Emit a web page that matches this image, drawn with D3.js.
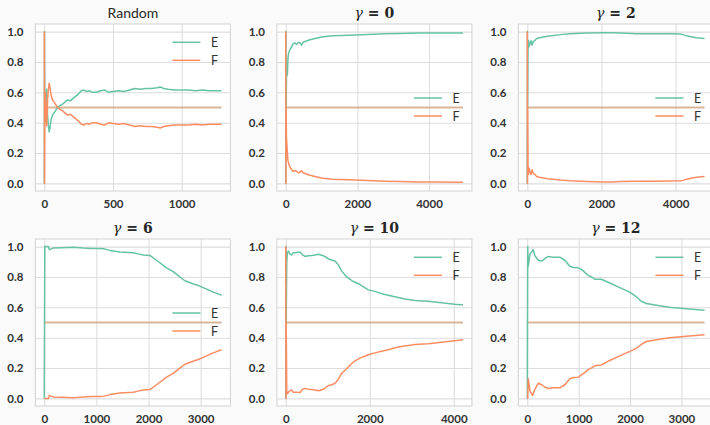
<!DOCTYPE html>
<html>
<head>
<meta charset="utf-8">
<script src="https://cdn.jsdelivr.net/npm/d3@7"></script>
<style>
  body { margin: 0; background: #fafafa; }
  svg { display: block; font-family: Lato, "Open Sans", sans-serif; }
</style>
</head>
<body>
<div id="chart-area"></div>
<script>
// step -> share of E / F

const randomE = [[0,0.0],[2,1.0],[4,0.5],[8,0.4],[14,0.58],[18,0.62],[24,0.45],[30,0.38],[36,0.34],[42,0.37],[50,0.42],[60,0.45],[75,0.47],[90,0.49],[110,0.51],[130,0.52],[150,0.535],[170,0.55],[190,0.545],[210,0.56],[230,0.575],[250,0.59],[270,0.61],[290,0.615],[310,0.605],[330,0.61],[350,0.6],[380,0.6],[410,0.61],[440,0.615],[470,0.6],[500,0.605],[540,0.61],[580,0.605],[620,0.615],[660,0.625],[700,0.62],[740,0.625],[780,0.625],[820,0.63],[845,0.635],[870,0.625],[900,0.62],[950,0.615],[1000,0.615],[1050,0.615],[1100,0.61],[1150,0.615],[1200,0.61],[1250,0.61],[1290,0.61]]
const randomF = [[0,1.0],[2,0.0],[4,0.5],[8,0.6],[14,0.42],[18,0.38],[24,0.55],[30,0.62],[36,0.66],[42,0.63],[50,0.58],[60,0.55],[75,0.53],[90,0.51],[110,0.49],[130,0.48],[150,0.465],[170,0.45],[190,0.455],[210,0.44],[230,0.425],[250,0.41],[270,0.39],[290,0.385],[310,0.395],[330,0.39],[350,0.4],[380,0.4],[410,0.39],[440,0.385],[470,0.4],[500,0.395],[540,0.39],[580,0.395],[620,0.385],[660,0.375],[700,0.38],[740,0.375],[780,0.375],[820,0.37],[845,0.365],[870,0.375],[900,0.38],[950,0.385],[1000,0.385],[1050,0.385],[1100,0.39],[1150,0.385],[1200,0.39],[1250,0.39],[1290,0.39]]

const gamma0E = [[0,0.0],[5,1.0],[10,0.5],[20,0.7],[46,0.72],[60,0.82],[74,0.85],[110,0.88],[167,0.9],[200,0.92],[260,0.925],[300,0.915],[353,0.93],[400,0.925],[445,0.91],[480,0.93],[538,0.935],[650,0.945],[817,0.955],[1000,0.965],[1300,0.972],[1559,0.975],[2116,0.98],[2765,0.985],[3200,0.987],[3693,0.99],[4300,0.99],[4950,0.991]]
const gamma0F = [[0,1.0],[5,0.0],[10,0.5],[20,0.3],[46,0.2],[60,0.15],[74,0.14],[110,0.11],[167,0.09],[200,0.08],[260,0.085],[300,0.08],[353,0.07],[400,0.075],[445,0.084],[480,0.07],[538,0.065],[650,0.055],[817,0.045],[1000,0.035],[1300,0.028],[1559,0.025],[2116,0.02],[2765,0.015],[3200,0.013],[3693,0.01],[4300,0.009],[4950,0.008]]

const gamma2E = [[0,0.0],[5,1.0],[10,0.5],[20,0.88],[35,0.94],[50,0.9],[72,0.92],[100,0.94],[130,0.91],[162,0.935],[200,0.94],[252,0.955],[330,0.96],[431,0.965],[550,0.97],[701,0.975],[900,0.98],[1151,0.985],[1600,0.99],[2050,0.993],[2300,0.993],[2500,0.99],[2950,0.985],[3398,0.985],[3848,0.985],[4117,0.984],[4200,0.98],[4297,0.972],[4450,0.965],[4567,0.96],[4780,0.955]]
const gamma2F = [[0,1.0],[5,0.0],[10,0.5],[20,0.12],[35,0.06],[50,0.1],[72,0.08],[100,0.06],[130,0.09],[162,0.065],[200,0.06],[252,0.045],[330,0.04],[431,0.035],[550,0.03],[701,0.028],[900,0.022],[1151,0.017],[1600,0.012],[2050,0.009],[2300,0.009],[2500,0.012],[2950,0.015],[3398,0.015],[3848,0.016],[4117,0.017],[4200,0.02],[4297,0.028],[4450,0.035],[4567,0.04],[4780,0.046]]

const gamma6E = [[0,0.0],[10,1.0],[80,1.0],[96,0.98],[130,0.985],[172,0.99],[350,0.993],[556,0.995],[748,0.99],[900,0.988],[1067,0.987],[1150,0.985],[1259,0.975],[1450,0.965],[1706,0.96],[1800,0.952],[1898,0.945],[2026,0.942],[2153,0.91],[2345,0.86],[2473,0.835],[2600,0.8],[2697,0.775],[2850,0.755],[2984,0.74],[3240,0.7],[3400,0.68]]
const gamma6F = [[0,0.0],[80,0.0],[96,0.02],[130,0.015],[172,0.01],[350,0.007],[556,0.005],[748,0.01],[900,0.012],[1067,0.013],[1150,0.015],[1259,0.025],[1450,0.035],[1706,0.04],[1800,0.048],[1898,0.055],[2026,0.058],[2153,0.09],[2345,0.14],[2473,0.165],[2600,0.2],[2697,0.225],[2850,0.245],[2984,0.26],[3240,0.3],[3400,0.32]]

const gamma10E = [[0,0.0],[5,1.0],[10,0.5],[24,0.9],[40,0.96],[63,0.97],[100,0.95],[143,0.945],[180,0.96],[222,0.96],[300,0.962],[340,0.965],[400,0.945],[459,0.935],[540,0.94],[618,0.942],[700,0.945],[776,0.95],[895,0.94],[1014,0.92],[1100,0.91],[1172,0.905],[1251,0.88],[1330,0.84],[1449,0.8],[1608,0.77],[1766,0.75],[1964,0.715],[2122,0.705],[2281,0.69],[2439,0.68],[2677,0.665],[2835,0.655],[3073,0.645],[3390,0.64],[3707,0.63],[4023,0.62],[4220,0.615]]
const gamma10F = [[0,1.0],[5,0.0],[10,0.5],[24,0.05],[40,0.03],[63,0.04],[100,0.05],[143,0.055],[180,0.04],[222,0.04],[300,0.04],[340,0.038],[400,0.06],[459,0.066],[540,0.06],[618,0.058],[700,0.055],[776,0.05],[895,0.06],[1014,0.085],[1100,0.09],[1172,0.1],[1251,0.125],[1330,0.165],[1449,0.195],[1608,0.24],[1766,0.265],[1964,0.288],[2122,0.3],[2281,0.31],[2439,0.32],[2677,0.338],[2835,0.345],[3073,0.355],[3390,0.36],[3707,0.37],[4023,0.38],[4220,0.387]]

const gamma12E = [[0,0.0],[8,1.0],[19,0.87],[52,0.95],[116,0.98],[149,0.94],[214,0.91],[278,0.905],[343,0.92],[408,0.935],[505,0.93],[634,0.93],[731,0.91],[828,0.87],[900,0.862],[990,0.86],[1055,0.85],[1120,0.83],[1184,0.81],[1249,0.8],[1313,0.785],[1443,0.785],[1605,0.76],[1799,0.73],[1993,0.7],[2122,0.67],[2219,0.64],[2316,0.625],[2575,0.61],[2769,0.6],[3093,0.59],[3450,0.58]]
const gamma12F = [[0,0.0],[8,0.0],[19,0.13],[52,0.05],[104,0.02],[149,0.06],[214,0.1],[278,0.09],[343,0.075],[408,0.065],[505,0.07],[634,0.07],[731,0.09],[828,0.13],[900,0.138],[990,0.14],[1055,0.155],[1120,0.17],[1184,0.19],[1249,0.2],[1313,0.215],[1443,0.22],[1605,0.25],[1799,0.28],[1993,0.31],[2122,0.33],[2219,0.355],[2316,0.375],[2575,0.39],[2769,0.4],[3093,0.41],[3450,0.42]]

const titles = ["Random", "0", "2", "6", "10", "12"]   // first is plain text, rest are gamma values
const xTickValues = [[0, 500, 1000], [0, 2000, 4000], [0, 2000, 4000], [0, 1000, 2000, 3000], [0, 2000, 4000], [0, 1000, 2000, 3000]]
const yTickValues = [0, 0.2, 0.4, 0.6, 0.8, 1.0]
const baselineValue = 0.5
const legendLabels = ["E", "F"]

const eSeries = [randomE, gamma0E, gamma2E, gamma6E, gamma10E, gamma12E]
const fSeries = [randomF, gamma0F, gamma2F, gamma6F, gamma10F, gamma12F]

// layout
const LEFT0 = 35.4, TOP0 = 24, COL_STEP = 241.5, ROW_STEP = 215
const WIDTH = 195, HEIGHT = 167
const COLORS = {E: "#66c2a5", F: "#fc8d62", base: "#d9b597"}
const legendSpot = ["upper", "center", "center", "center", "upper", "upper"]

const svg = d3.select("#chart-area").append("svg")
  .attr("width", 710)
  .attr("height", 425)

svg.append("rect").attr("width", 710).attr("height", 425).attr("fill", "#fafafa")

eSeries.forEach((eData, i) => {
  const fData = fSeries[i]
  const col = i % 3, row = Math.floor(i / 3)
  const g = svg.append("g")
    .attr("transform", `translate(${LEFT0 + col * COL_STEP}, ${TOP0 + row * ROW_STEP})`)

  const n = d3.max(eData.concat(fData), d => d[0])

  const x = d3.scaleLinear()
    .domain([-0.05 * n, 1.05 * n])
    .range([0, WIDTH])

  const y = d3.scaleLinear()
    .domain([-0.05, 1.05])
    .range([HEIGHT, 0])

  g.append("rect")
    .attr("width", WIDTH)
    .attr("height", HEIGHT)
    .attr("fill", "#ffffff")

  // grid + tick labels
  const yAxisCall = d3.axisLeft(y)
    .tickValues(yTickValues)
    .tickFormat(d3.format(".1f"))
    .tickSize(-WIDTH)
    .tickPadding(12)
  const xAxisCall = d3.axisBottom(x)
    .tickValues(xTickValues[i])
    .tickFormat(d3.format("d"))
    .tickSize(-HEIGHT)
    .tickPadding(9)

  const yAxisGroup = g.append("g").call(yAxisCall)
  const xAxisGroup = g.append("g")
    .attr("transform", `translate(0, ${HEIGHT})`)
    .call(xAxisCall)

  ;[xAxisGroup, yAxisGroup].forEach(ax => {
    ax.select(".domain").remove()
    ax.selectAll(".tick line").attr("stroke", "#dddddd").attr("stroke-width", 1.1)
    ax.selectAll(".tick text")
      .attr("fill", "#333333")
      .attr("font-family", "Lato, sans-serif")
      .attr("font-weight", "bold")
      .attr("font-size", "11.5px")
  })

  // frame
  g.append("rect")
    .attr("width", WIDTH)
    .attr("height", HEIGHT)
    .attr("fill", "none")
    .attr("stroke", "#d6d6d6")
    .attr("stroke-width", 1.1)

  const line = d3.line()
    .x(d => x(d[0]))
    .y(d => y(d[1]))

  g.append("path")
    .datum([[0, baselineValue], [n, baselineValue]])
    .attr("d", line)
    .attr("fill", "none")
    .attr("stroke", COLORS.base)
    .attr("stroke-width", 2.2)

  g.append("path")
    .datum(eData)
    .attr("d", line)
    .attr("fill", "none")
    .attr("stroke", COLORS.E)
    .attr("stroke-width", 1.5)
    .attr("stroke-linejoin", "round")

  g.append("path")
    .datum(fData)
    .attr("d", line)
    .attr("fill", "none")
    .attr("stroke", COLORS.F)
    .attr("stroke-width", 1.5)
    .attr("stroke-linejoin", "round")

  // title
  const title = g.append("text")
    .attr("x", WIDTH / 2)
    .attr("y", -6)
    .attr("text-anchor", "middle")
    .attr("fill", "#262626")
    .attr("font-size", "14px")
  if (i === 0) {
    title.text(titles[i])
  } else {
    title.append("tspan")
      .attr("font-family", "'DejaVu Serif', serif")
      .attr("font-style", "italic")
      .text("γ")
    title.append("tspan")
      .attr("font-family", "'DejaVu Serif', serif")
      .attr("font-weight", "bold")
      .text(` = ${titles[i]}`)
  }

  // legend
  const legendTop = legendSpot[i] === "upper" ? 18.3 : 74
  const legend = g.append("g")
    .attr("transform", `translate(${WIDTH - 58}, ${legendTop})`)
  legendLabels.forEach((label, k) => {
    legend.append("line")
      .attr("x1", 0).attr("x2", 28)
      .attr("y1", k * 18).attr("y2", k * 18)
      .attr("stroke", k === 0 ? COLORS.E : COLORS.F)
      .attr("stroke-width", 1.5)
    legend.append("text")
      .attr("x", 38.5)
      .attr("y", k * 18 + 4.5)
      .attr("fill", "#333333")
      .attr("font-size", "12.5px")
      .text(label)
  })
})
</script>
</body>
</html>
